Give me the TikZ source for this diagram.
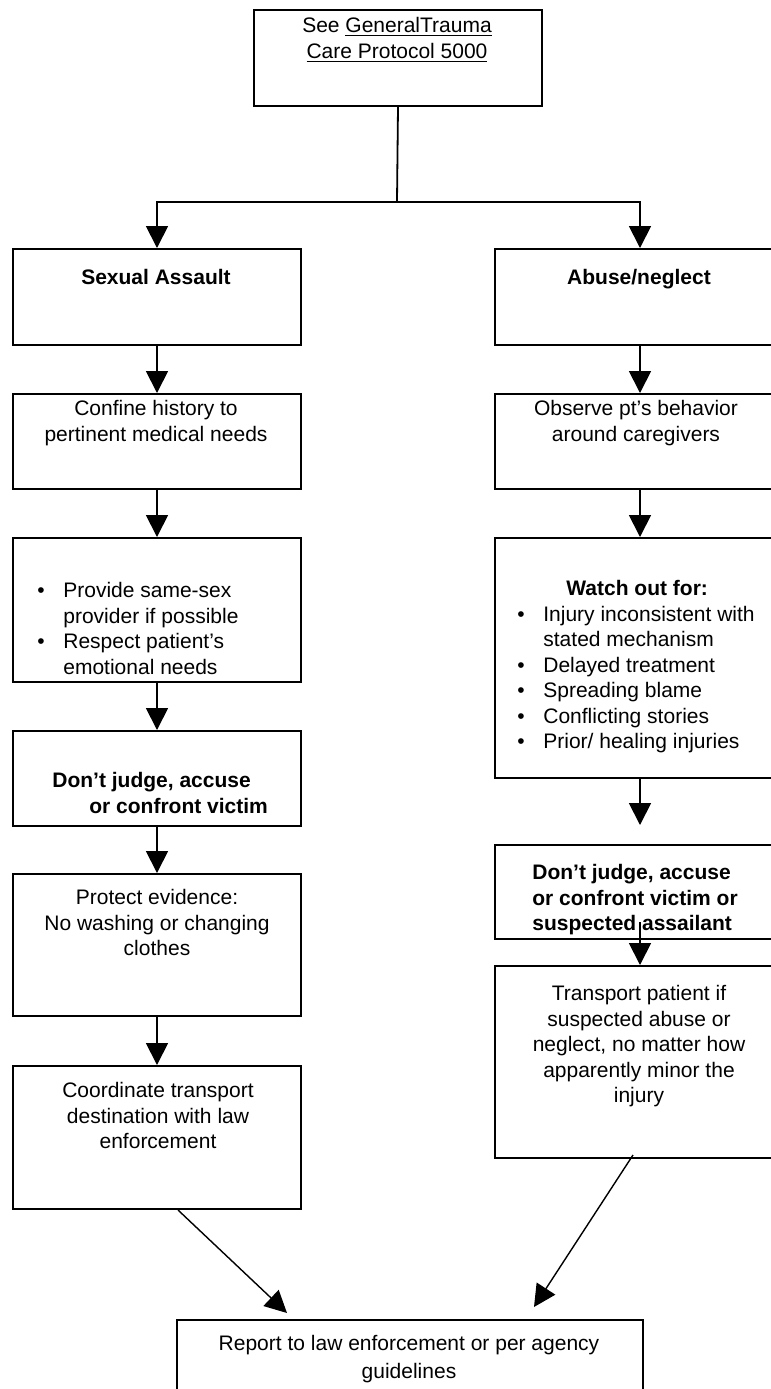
\documentclass[tikz,border=0pt]{standalone}
\usepackage{fontspec}
\setmainfont{Liberation Sans}
\setsansfont{Liberation Sans}
\tikzset{every picture/.style={/utils/exec={\sffamily}}}
\usetikzlibrary{arrows.meta}
\usetikzlibrary{positioning}

\tikzset{
  box/.style={draw, line width=1pt, inner sep=0pt, anchor=north west},
  txt/.style={inner sep=0pt, anchor=north, align=center, font=\fontsize{10.5}{12.75}\selectfont},
  ltxt/.style={txt, anchor=north west, align=left},
  bold/.style={font=\fontsize{10.5}{12.75}\selectfont\bfseries},
  arr/.style={line width=0.9pt, -{Triangle[length=11pt, width=11pt]}},
}
\newcommand{\bul}{\makebox[13pt][l]{\textbullet}}
\newcommand{\ind}{\hspace*{13pt}}

\begin{document}
\begin{tikzpicture}[x=0.5pt, y=-0.5pt]
  \useasboundingbox (0,0) rectangle (771,1389);

  % boxes
  \node [box, minimum width=144pt, minimum height=48pt] (top) at (253,9) {};
  \node [box, minimum width=144pt, minimum height=48pt] (sa) at (12,248) {};
  \node [box, minimum width=144pt, minimum height=47.5pt] (confine) at (12,393) {};
  \node [box, minimum width=144pt, minimum height=72pt] (sabul) at (12,537) {};
  \node [box, minimum width=144pt, minimum height=47.5pt] (sadj) at (12,730) {};
  \node [box, minimum width=144pt, minimum height=71pt] (protect) at (12,873) {};
  \node [box, minimum width=144pt, minimum height=71.5pt] (coord) at (12,1065) {};
  \node [box, minimum width=145pt, minimum height=48pt] (an) at (494,248) {};
  \node [box, minimum width=145pt, minimum height=47.5pt] (observe) at (494,393) {};
  \node [box, minimum width=145pt, minimum height=120pt] (watch) at (494,537) {};
  \node [box, minimum width=145pt, minimum height=47pt] (andj) at (494,844) {};
  \node [box, minimum width=145pt, minimum height=96pt] (transport) at (494,965) {};
  \node [box, minimum width=233pt, minimum height=50pt] (report) at (176,1319) {};

  % texts
  \node [txt] (topt) at (397,17) {See \underline{GeneralTrauma}\\\underline{Care Protocol 5000}};
  \node [txt, bold] (sat) at (156,269) {Sexual Assault};
  \node [txt, bold] (ant) at (639,269) {Abuse/neglect};
  \node [txt] (confinet) at (156,400) {Confine history to\\pertinent medical needs};
  \node [txt] (observet) at (636,400) {Observe pt’s behavior\\around caregivers};
  \node [ltxt] (sabult) at (37,582) {\bul Provide same-sex\\\ind provider if possible\\\bul Respect patient’s\\\ind emotional needs};
  \node [ltxt] (watcht) at (517,580) {\hspace*{24.5pt}\textbf{Watch out for:}\\\bul Injury inconsistent with\\\ind stated mechanism\\\bul Delayed treatment\\\bul Spreading blame\\\bul Conflicting stories\\\bul Prior/ healing injuries};
  \node [ltxt, bold] (sadjt) at (52,772) {Don’t judge, accuse\\\hspace*{18.5pt}or confront victim};
  \node [ltxt, bold] (andjt) at (532,864) {Don’t judge, accuse\\or confront victim or\\suspected assailant};
  \node [txt] (protectt) at (157,889) {Protect evidence:\\No washing or changing\\clothes};
  \node [txt] (coordt) at (158,1082) {Coordinate transport\\destination with law\\enforcement};
  \node [txt] (transportt) at (639,985) {Transport patient if\\suspected abuse or\\neglect, no matter how\\apparently minor the\\injury};
  \node [txt, font=\fontsize{10.5}{14}\selectfont] (reportt) at (409,1335) {Report to law enforcement or per agency\\guidelines};

  % split from the top box
  \coordinate (split) at (397,202);
  \draw [line width=0.9pt] (top.south) -- (split);
  \draw [arr] (split) -| (sa.north);
  \draw [arr] (split) -| (an.north);

  \foreach \a/\b in {sa/confine, confine/sabul, sabul/sadj, sadj/protect, protect/coord, an/observe, observe/watch} {
    \draw [arr] (\a) -- (\b);
  }
  \draw [arr, shorten >=9.5pt] (watch) -- (andj);
  \draw [arr, shorten <=-9pt] (andj) -- (transport);

  % both branches end in the report
  \draw [arr, line width=0.7pt] ([xshift=10.5pt]coord.south) -- ([xshift=55.5pt, yshift=3pt]report.north west);
  \draw [arr, line width=0.7pt] ([xshift=-3.5pt, yshift=2pt]transport.south) -- ([xshift=-55pt, yshift=6pt]report.north east);
\end{tikzpicture}
\end{document}
